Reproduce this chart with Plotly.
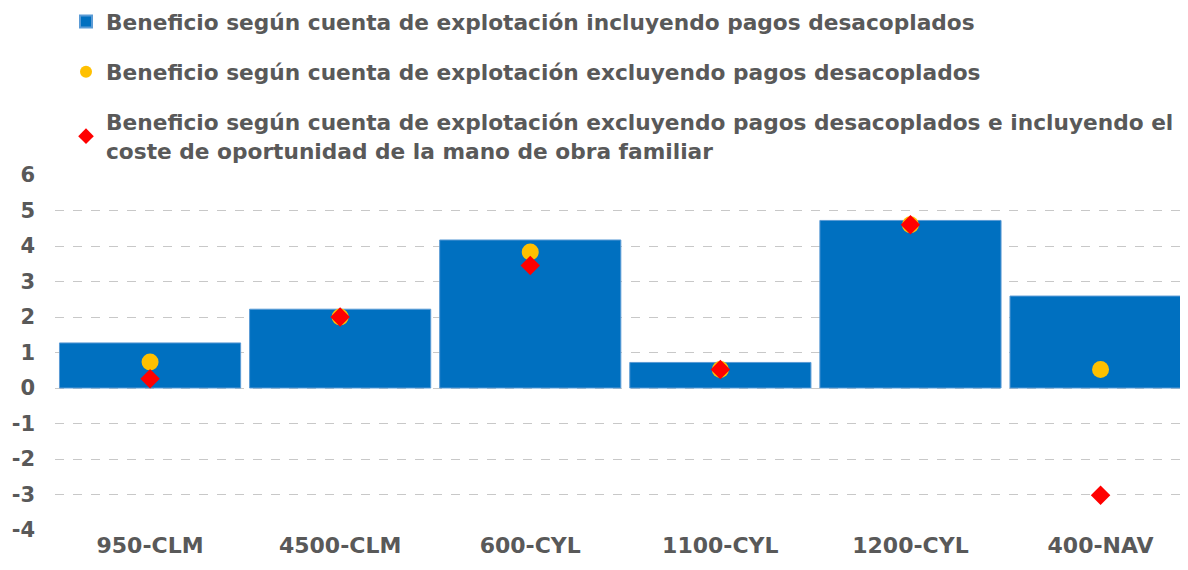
import plotly.graph_objects as go

categories = ["950-CLM", "4500-CLM", "600-CYL", "1100-CYL", "1200-CYL", "400-NAV"]
incl_desacoplados = [1.27, 2.22, 4.17, 0.72, 4.72, 2.59]
excl_desacoplados = [0.73, 2.0, 3.83, 0.52, 4.6, 0.52]
excl_mano_obra = [0.26, 2.0, 3.45, 0.52, 4.6, -3.02]
y_ticks = [-4, -3, -2, -1, 0, 1, 2, 3, 4, 5, 6]

names = [
    "Beneficio según cuenta de explotación incluyendo pagos desacoplados",
    "Beneficio según cuenta de explotación excluyendo pagos desacoplados",
    "Beneficio según cuenta de explotación excluyendo pagos desacoplados e incluyendo el<br>coste de oportunidad de la mano de obra familiar",
]

grey = "#595959"
font_family = "DejaVu Sans, Liberation Sans, Arial, sans-serif"

W, H = 1180, 562

fig = go.Figure()
fig.add_trace(go.Bar(
    x=categories, y=incl_desacoplados, name=names[0],
    marker=dict(color="#0070C0", line=dict(color="#5B9BD5", width=1)),
    legendgroup="a",
))
fig.add_trace(go.Scatter(
    x=categories, y=excl_desacoplados, name=names[1], mode="markers",
    marker=dict(color="#FFC000", size=17, symbol="circle"),
    legendgroup="b",
))
fig.add_trace(go.Scatter(
    x=categories, y=excl_mano_obra, name=names[2], mode="markers",
    marker=dict(color="#FF0000", size=15, symbol="diamond"),
    legendgroup="c",
))

fig.update_layout(
    width=W, height=H,
    margin=dict(l=47, r=0, t=167, b=40, autoexpand=False),
    paper_bgcolor="white", plot_bgcolor="white",
    bargap=0.047,
    font=dict(family=font_family, color=grey, size=21),
    showlegend=True,
    legend=dict(
        x=58 / W, xref="container", y=1 + 174 / 355, yref="paper",
        xanchor="left", yanchor="top",
        font=dict(family=font_family, size=21.7, color=grey, weight="bold"),
        tracegroupgap=19, itemsizing="constant",
        bgcolor="rgba(0,0,0,0)",
    ),
    xaxis=dict(
        range=[-0.5, 5.46], showgrid=False, showline=False, ticks="",
        tickfont=dict(family=font_family, size=22, color=grey, weight="bold"),
        tickangle=0, fixedrange=True,
    ),
    yaxis=dict(
        range=[-4, 6], tickvals=y_ticks, ticktext=[str(v) for v in y_ticks],
        showgrid=True, gridcolor="#C8C8C8", griddash="dash", gridwidth=1,
        zeroline=False, showline=False, ticks="",
        tickfont=dict(family=font_family, size=21, color=grey, weight="bold"),
        ticklabelstandoff=19,
    ),
)

fig.write_html("out.html")
